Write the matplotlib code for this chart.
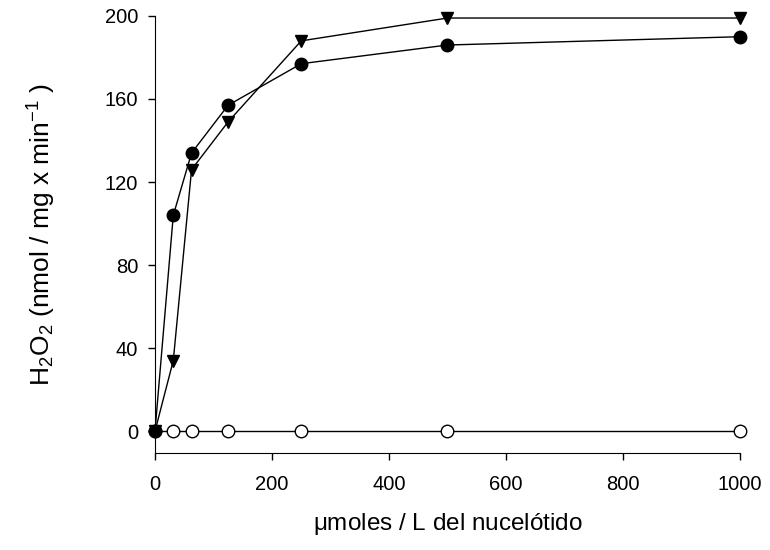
import numpy as np
import matplotlib.pyplot as plt

plt.rcParams['font.family'] = ['Liberation Sans', 'DejaVu Sans']
plt.rcParams['mathtext.fontset'] = 'custom'
plt.rcParams['mathtext.rm'] = 'Liberation Sans'
plt.rcParams['mathtext.it'] = 'Liberation Sans'

conc = [0, 31.25, 62.5, 125, 250, 500, 1000]
circles = [0, 104, 134, 157, 177, 186, 190]
triangles = [0, 34, 126, 149, 188, 199, 199]
control = [0, 0, 0, 0, 0, 0, 0]

fig = plt.figure(figsize=(7.7, 5.5), dpi=100)
ax = fig.add_axes([0.2013, 0.1764, 0.7597, 0.7946])

ax.plot(conc, control, '-o', color='black', mfc='white', mec='black', ms=9, lw=1, clip_on=False)
ax.plot(conc, triangles, '-v', color='black', ms=9, lw=1, clip_on=False)
ax.plot(conc, circles, '-o', color='black', ms=9, lw=1, clip_on=False)

ax.set_xlim(0, 1000)
ax.set_ylim(-10.5, 200)
ax.set_xticks([0, 200, 400, 600, 800, 1000])
ax.set_yticks([0, 40, 80, 120, 160, 200])
ax.spines['top'].set_visible(False)
ax.spines['right'].set_visible(False)
ax.tick_params(direction='out', length=5, width=1, labelsize=14.5)
ax.tick_params(axis='x', pad=11)
ax.tick_params(axis='y', pad=7)

ax.set_xlabel('$\\mu$moles / L del nucelótido', fontsize=17.5, labelpad=12)
ax.set_ylabel('H$_2$O$_2$ (nmol / mg x min$^{-1}$ )', fontsize=19, labelpad=34)

fig.savefig('out.png', dpi=100)
